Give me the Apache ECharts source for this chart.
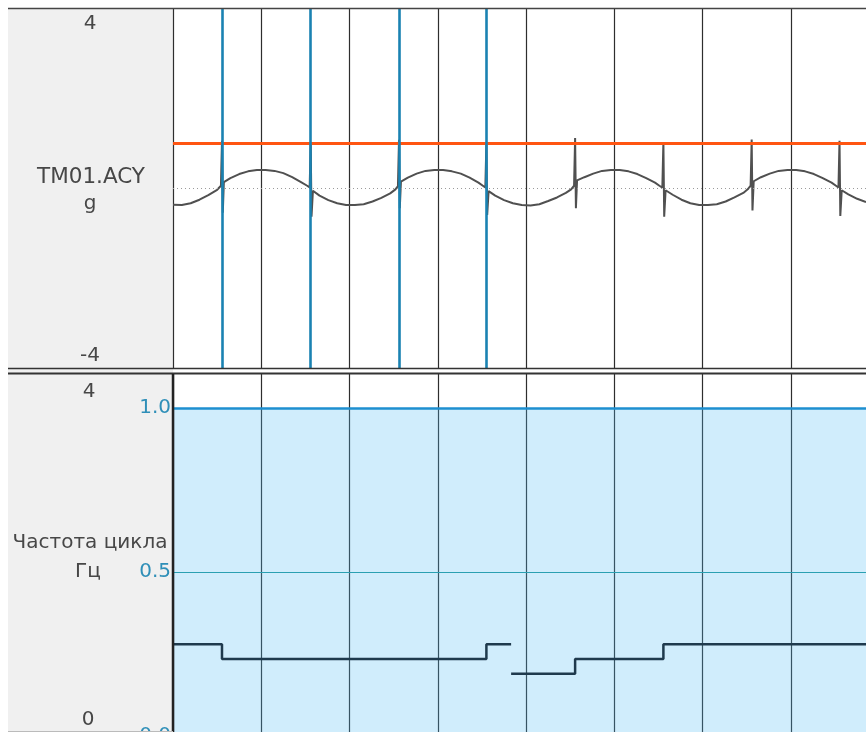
<!DOCTYPE html>
<html><head><meta charset="utf-8">
<script src="https://cdn.jsdelivr.net/npm/echarts@6/dist/echarts.min.js"></script>
<style>html,body{margin:0;padding:0;background:#fff;overflow:hidden}#c{width:866px;height:732px}</style>
</head><body><div id="c"></div>
<script>
// Top panel: TM01.ACY, g  (time in grid divisions)
const accelTime = [
  0, 0.1, 0.2, 0.3, 0.4, 0.5, 0.543,
  0.555, 0.564, 0.576,
  0.65, 0.75, 0.85, 0.95, 1.05, 1.15, 1.25, 1.35, 1.45, 1.52, 1.548,
  1.56, 1.569, 1.585,
  1.66, 1.76, 1.86, 1.96, 2.06, 2.16, 2.26, 2.36, 2.46, 2.52, 2.548,
  2.56, 2.569, 2.582,
  2.66, 2.76, 2.86, 2.96, 3.06, 3.16, 3.26, 3.36, 3.46, 3.51, 3.538,
  3.55, 3.559, 3.575,
  3.65, 3.75, 3.85, 3.95, 4.05, 4.15, 4.25, 4.35, 4.45, 4.51, 4.543,
  4.555, 4.564, 4.577, 4.59,
  4.66, 4.76, 4.86, 4.96, 5.06, 5.16, 5.26, 5.36, 5.46, 5.51, 5.543,
  5.555, 5.564, 5.58,
  5.66, 5.76, 5.86, 5.96, 6.06, 6.16, 6.26, 6.36, 6.46, 6.51, 6.543,
  6.555, 6.564, 6.578,
  6.66, 6.76, 6.86, 6.96, 7.06, 7.16, 7.26, 7.36, 7.46, 7.51, 7.538,
  7.55, 7.559, 7.575,
  7.65, 7.75, 7.85
];
const accelG = [
  -0.37, -0.38, -0.34, -0.26, -0.16, -0.04, 0.05,
  1.05, -0.55, 0.13,
  0.22, 0.31, 0.37, 0.40, 0.40, 0.38, 0.33, 0.24, 0.13, 0.05, 0.01,
  1.02, -0.64, -0.06,
  -0.17, -0.27, -0.34, -0.38, -0.38, -0.36, -0.30, -0.22, -0.12, -0.03, 0.04,
  1.07, -0.45, 0.14,
  0.23, 0.32, 0.38, 0.40, 0.40, 0.37, 0.32, 0.23, 0.12, 0.05, 0.01,
  1.00, -0.60, -0.07,
  -0.17, -0.27, -0.34, -0.38, -0.39, -0.36, -0.29, -0.21, -0.11, -0.03, 0.05,
  1.11, -0.45, 0.17, 0.15,
  0.24, 0.32, 0.38, 0.40, 0.40, 0.37, 0.31, 0.22, 0.12, 0.05, 0.01,
  1.02, -0.64, -0.05,
  -0.15, -0.26, -0.34, -0.38, -0.38, -0.36, -0.30, -0.21, -0.11, -0.03, 0.05,
  1.08, -0.50, 0.15,
  0.24, 0.32, 0.38, 0.40, 0.40, 0.37, 0.31, 0.22, 0.12, 0.05, 0.01,
  1.05, -0.62, -0.05,
  -0.14, -0.24, -0.31
];
const cursorTimes = [0.555, 1.56, 2.56, 3.55];
const accelLimit = 1.0;

// Bottom panel: Частота цикла, Гц
const freqTimeA = [0, 0.555, 3.55, 3.83];
const freqA = [0.28, 0.235, 0.28, 0.28];
const freqTimeB = [3.83, 4.555, 5.555, 7.85];
const freqB = [0.19, 0.235, 0.28, 0.28];
const freqLimit = 1.0;
const freqMid = 0.5;

const topTicks = ['4', '-4'];
const bottomTicks = ['4', '0'];

const zip = (a, b) => a.map((v, i) => [v, b[i]]);
const FONT = 'DejaVu Sans';
const chart = echarts.init(document.getElementById('c'), null, {renderer: 'canvas'});

const xAxisBase = (gi) => ({
  type: 'value', gridIndex: gi, min: 0, max: 7.85, interval: 1,
  axisLine: {show: false}, axisTick: {show: false}, axisLabel: {show: false},
  splitLine: {show: true, showMaxLine: false, lineStyle: {color: '#2e2e2e', width: 1.2}}
});

const txt = (x, y, s, size) => ({
  type: 'text', x: x, y: y, z: 10,
  style: {text: s, fill: '#474747', font: (size || 20) + 'px "' + FONT + '"', align: 'center', verticalAlign: 'middle'}
});

chart.setOption({
  animation: false,
  backgroundColor: '#ffffff',
  grid: [
    {left: 173, right: 0, top: 8, height: 360, outerBoundsMode: 'none', containLabel: false},
    {left: 173, right: 0, top: 374, height: 362, outerBoundsMode: 'none', containLabel: false}
  ],
  xAxis: [xAxisBase(0), xAxisBase(1)],
  yAxis: [
    {type: 'value', gridIndex: 0, min: -4, max: 4,
     axisLine: {show: false}, axisTick: {show: false}, axisLabel: {show: false}, splitLine: {show: false}},
    {type: 'value', gridIndex: 1, min: 0, max: 1.104, interval: 0.5,
     axisLine: {show: false}, axisTick: {show: false}, splitLine: {show: false},
     axisLabel: {show: true, margin: 2, color: '#2f8fb8', fontSize: 20, fontFamily: FONT,
       formatter: v => (Math.abs(v * 2 - Math.round(v * 2)) < 1e-6 ? v.toFixed(1) : '')}}
  ],
  graphic: [
    {type: 'rect', shape: {x: 8, y: 8, width: 165, height: 724}, style: {fill: '#f0f0f0'}, z: -10},
    {type: 'line', shape: {x1: 8, y1: 8.5, x2: 866, y2: 8.5}, style: {stroke: '#444', lineWidth: 1.5}, z: 20},
    {type: 'line', shape: {x1: 8, y1: 368.5, x2: 866, y2: 368.5}, style: {stroke: '#333', lineWidth: 1.5}, z: 20},
    {type: 'line', shape: {x1: 8, y1: 373.5, x2: 866, y2: 373.5}, style: {stroke: '#333', lineWidth: 2}, z: 20},
    {type: 'line', shape: {x1: 173, y1: 374, x2: 173, y2: 732}, style: {stroke: '#222', lineWidth: 2.5}, z: 20},
    {type: 'line', shape: {x1: 8, y1: 731.5, x2: 173, y2: 731.5}, style: {stroke: '#bbb', lineWidth: 1}, z: 20},
    txt(90, 24, topTicks[0]),
    txt(91, 177, 'TM01.ACY', 21.5),
    txt(90, 204, 'g'),
    txt(90, 356, topTicks[1]),
    txt(89, 392, bottomTicks[0]),
    txt(90, 543, 'Частота цикла'),
    txt(88, 572, 'Гц'),
    txt(88, 720, bottomTicks[1])
  ],
  series: [
    {
      type: 'line', xAxisIndex: 0, yAxisIndex: 0, data: zip(accelTime, accelG),
      showSymbol: false, symbol: 'none', lineStyle: {color: '#505050', width: 2},
      markLine: {
        silent: true, symbol: 'none', label: {show: false}, animation: false,
        data: [
          {yAxis: 0, lineStyle: {color: '#9a9a9a', width: 1, type: [1, 3]}},
          {yAxis: accelLimit, lineStyle: {color: '#ff5512', width: 3, type: 'solid'}},
          ...cursorTimes.map(t => ({xAxis: t, lineStyle: {color: '#1a82b2', width: 2.6, type: 'solid'}}))
        ]
      }
    },
    {
      type: 'line', xAxisIndex: 1, yAxisIndex: 1, data: zip(freqTimeA, freqA), step: 'end',
      showSymbol: false, symbol: 'none', lineStyle: {color: '#1f3a4d', width: 2.5},
      markArea: {silent: true, itemStyle: {color: 'rgba(80,190,245,0.27)'}, data: [[{yAxis: 0}, {yAxis: freqLimit}]]},
      markLine: {
        silent: true, symbol: 'none', label: {show: false}, animation: false,
        data: [
          {yAxis: freqLimit, lineStyle: {color: '#1e8fd0', width: 2.5, type: 'solid'}},
          {yAxis: freqMid, lineStyle: {color: '#2aa0b2', width: 1.2, type: 'solid'}}
        ]
      }
    },
    {
      type: 'line', xAxisIndex: 1, yAxisIndex: 1, data: zip(freqTimeB, freqB), step: 'end',
      showSymbol: false, symbol: 'none', lineStyle: {color: '#1f3a4d', width: 2.5}
    }
  ]
});
</script>
</body></html>
